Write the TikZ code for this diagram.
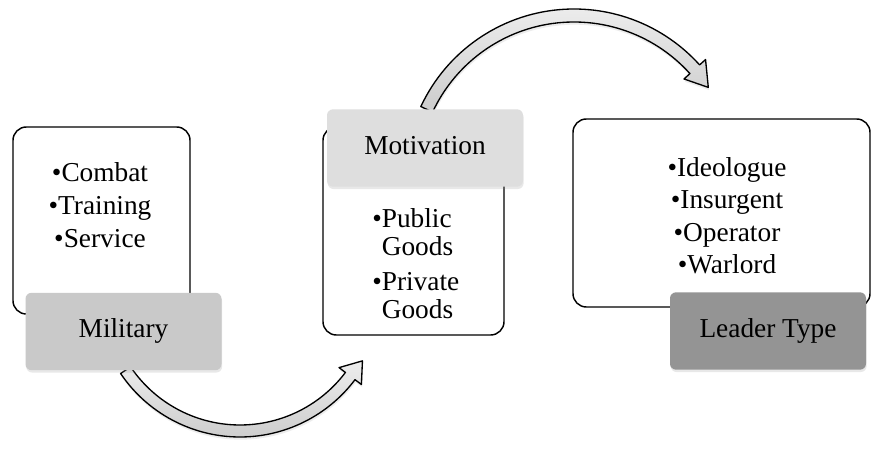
\documentclass[tikz,border=0pt]{standalone}
\usepackage{fontspec}
\setmainfont{Liberation Serif}
\usepackage{xcolor}
\usepackage{tikz}
\usetikzlibrary{shapes,arrows,positioning,calc,shadows}

\definecolor{milgray}{HTML}{C9C9C9}
\definecolor{motgray}{HTML}{DEDEDE}
\definecolor{leadgray}{HTML}{949494}

\tikzset{
    listbox/.style={draw, line width=1.1pt, fill=white, rounded corners=10pt, inner sep=0pt},
    tagbox/.style={rounded corners=4.5pt, inner sep=0pt, minimum width=147pt, minimum height=58pt,
        text height=2.1ex, text depth=0pt,
        drop shadow={opacity=0.18, shadow xshift=0.5pt, shadow yshift=-1.8pt}},
    itemtext/.style={anchor=base, inner sep=0pt},
    bendarrow/.style={draw, line width=1pt, line join=round, top color=black!7, bottom color=black!20,
        drop shadow={opacity=0.15, shadow xshift=0.5pt, shadow yshift=-2pt}}
}

\begin{document}
\begin{tikzpicture}[x=0.75pt, y=0.75pt, font=\fontsize{20.5}{24}\selectfont]
    \fill [white] (0,0) rectangle (871,453);
    \useasboundingbox (0,0) rectangle (871,453);

    % Curved arrows (drawn first, boxes sit on top)
    \coordinate (lowc) at (240,160);
    \coordinate (highc) at (574,275);
    \draw [bendarrow, shift={(lowc)}] (214:144) arc [start angle=214, end angle=323, radius=144]
        -- (323:152) -- (331:140) -- (323:124) -- (323:132)
        arc [start angle=323, end angle=214, radius=132] -- cycle;
    \draw [bendarrow, shift={(highc)}] (155:169) arc [start angle=155, end angle=42, radius=169]
        -- (42:177) -- (34:162) -- (42:148) -- (42:156)
        arc [start angle=42, end angle=155, radius=156] -- cycle;

    % Content boxes
    \node [listbox, minimum width=132.75pt, minimum height=140.25pt] (milbox) at (101.5,232.5) {};
    \node [listbox, minimum width=135.75pt, minimum height=156pt] (motbox) at (413.5,222) {};
    \node [listbox, minimum width=222.75pt, minimum height=141pt] (leadbox) at (721.5,240) {};

    % Military items
    \foreach \y/\entry [count=\i] in {271/Combat, 238/Training, 205/Service} {
        \node [itemtext] (mil\i) at (100,\y) {•\entry};
    }

    % Motivation items
    \foreach \y/\entry [count=\i] in {225/•Public, 197/\phantom{•}Goods, 162/•Private, 134/\phantom{•}Goods} {
        \node [itemtext, anchor=base west] (mot\i) at (372,\y) {\entry};
    }

    % Leader items
    \foreach \y/\entry [count=\i] in {276/Ideologue, 244/Insurgent, 211/Operator, 179/Warlord} {
        \node [itemtext] (lead\i) at (727,\y) {•\entry};
    }

    % Tags
    \node [tagbox, fill=milgray] (military) at (123.5,121.5) {Military};
    \node [tagbox, fill=motgray] (motivation) at (425,305) {Motivation};
    \node [tagbox, fill=leadgray] (leader) at (768,122) {Leader Type};
\end{tikzpicture}
\end{document}
